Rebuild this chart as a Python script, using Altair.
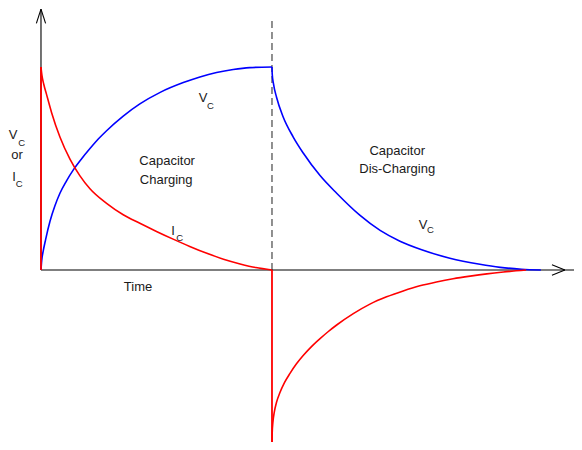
import altair as alt
import pandas as pd

# ---- data (time in tau-ish units, value in % of max) ----
vc_charge_t = [0, 0.015, 0.05, 0.1, 0.195, 0.3, 0.41, 0.55, 0.70, 0.88, 1.06, 1.24, 1.42, 1.78, 2.14, 2.58,
               3.08, 3.44, 3.80, 4.16, 4.52, 5.0]
vc_charge_v = [0, 4.5, 9.5, 15.0, 24.0, 31.5, 37.8, 43.8, 49.3, 54.8, 59.8, 64.5, 68.6, 75.8, 81.8, 87.5,
               92.3, 95.1, 97.3, 98.8, 99.7, 100]

ic_charge_t = [0, 0.02, 0.06, 0.12, 0.23, 0.41, 0.63, 0.84, 1.06, 1.42, 1.78, 2.14, 2.5, 2.86, 3.22, 3.59,
               3.95, 4.31, 4.65, 5.0]
ic_charge_v = [100, 96.0, 91.5, 86.5, 77.5, 65.5, 54.5, 46.5, 40.0, 32.8, 27.2, 23.0, 19.0, 15.2, 11.6, 8.2,
               5.3, 3.0, 1.2, 0]

vc_dis_t = [5.0, 5.005, 5.03, 5.10, 5.24, 5.46, 5.68, 6.04, 6.40, 6.90, 7.34, 7.77, 8.24, 8.85, 9.50, 9.94,
            10.40, 10.82]
vc_dis_v = [100, 96.5, 92.0, 85.0, 75.5, 65.5, 57.5, 46.5, 37.8, 27.0, 19.5, 14.2, 10.0, 5.8, 2.8, 1.3,
            0.4, 0]

ic_dis_t = [5.0, 5.005, 5.02, 5.05, 5.10, 5.17, 5.27, 5.39, 5.53, 5.68, 5.86, 6.04, 6.22, 6.40, 6.76, 7.12,
            7.48, 7.84, 8.20, 8.56, 8.92, 9.29, 9.65, 10.01, 10.50]
ic_dis_v = [-84.7, -80.0, -75.0, -70.0, -65.0, -60.5, -55.5, -50.9, -46.2, -42.0, -37.6, -33.8, -30.3, -27.1,
            -21.5, -16.8, -13.2, -10.3, -7.8, -5.9, -4.3, -3.0, -1.9, -1.0, 0]

series_names = ["Vc charge", "Ic charge", "Vc discharge", "Ic discharge"]
series_colors = ["#0000FF", "#FF0000", "#0000FF", "#FF0000"]

rows = []
for name, ts, vs in zip(series_names,
                        [vc_charge_t, ic_charge_t, vc_dis_t, ic_dis_t],
                        [vc_charge_v, ic_charge_v, vc_dis_v, ic_dis_v]):
    for t, v in zip(ts, vs):
        rows.append({"series": name, "t": t, "v": v})
curves = pd.DataFrame(rows)

# vertical current jumps
jumps = pd.DataFrame({"t": [0, 5.0], "v": [0, 0], "v2": [100, -84.7]})

X = alt.Scale(domain=[-0.714, 11.537], nice=False, zero=False)
Y = alt.Scale(domain=[-84.73, 129.06], nice=False, zero=False)

def xe(f="t"):
    return alt.X(f"{f}:Q", scale=X, axis=None)

def ye(f="v"):
    return alt.Y(f"{f}:Q", scale=Y, axis=None)

# axes (lines with arrows)
axes_df = pd.DataFrame({
    "t":  [0, 0, 0, 0, 11.34, 11.34],
    "v":  [0, 0, 128.5, 128.5, 0, 0],
    "t2": [0, 11.537, -0.10, 0.10, 11.06, 11.06],
    "v2": [128.5, 0, 121.5, 121.5, 2.6, -2.6],
})
axes_layer = alt.Chart(axes_df).mark_rule(color="black", strokeWidth=1.1).encode(
    x=xe(), y=ye(), x2="t2:Q", y2="v2:Q")

dash_df = pd.DataFrame({"t": [5.0], "v": [0], "v2": [124.1]})
dash_layer = alt.Chart(dash_df).mark_rule(color="#555555", strokeWidth=1.3, strokeDash=[7, 4]).encode(
    x=xe(), y=ye(), y2="v2:Q")

lines = alt.Chart(curves).mark_line(strokeWidth=1.6, interpolate="monotone").encode(
    x=xe(), y=ye(),
    color=alt.Color("series:N", scale=alt.Scale(domain=series_names, range=series_colors), legend=None),
    detail="series:N")

jump_layer = alt.Chart(jumps).mark_rule(color="#FF0000", strokeWidth=1.8).encode(
    x=xe(), y=ye(), y2="v2:Q")

# annotations
main_txt = pd.DataFrame({
    "t": [3.51, 2.73, 2.71, 2.86, 7.71, 7.71, 8.27, -0.606, -0.52, -0.584, 2.10],
    "v": [84.7, 53.7, 44.3, 19.2, 58.6, 49.8, 22.2, 66.5, 56.7, 45.8, -8.4],
    "label": ["V", "Capacitor", "Charging", "I", "Capacitor", "Dis-Charging", "V", "V", "or", "I", "Time"],
})
sub_txt = pd.DataFrame({
    "t": [3.67, 3.0, 8.43, -0.42, -0.47],
    "v": [81.0, 15.9, 19.5, 62.6, 42.6],
    "label": ["C", "C", "C", "C", "C"],
})
main_layer = alt.Chart(main_txt).mark_text(font="Liberation Sans", fontSize=13, color="#1a1a1a",
                                           align="center", baseline="middle").encode(
    x=xe(), y=ye(), text="label:N")
sub_layer = alt.Chart(sub_txt).mark_text(font="Liberation Sans", fontSize=9.5, color="#1a1a1a",
                                         align="center", baseline="middle").encode(
    x=xe(), y=ye(), text="label:N")

chart = alt.layer(dash_layer, axes_layer, lines, jump_layer, main_layer, sub_layer).properties(
    width=566, height=434, padding=0,
    autosize=alt.AutoSizeParams(type="none"),
).configure(background="white").configure_view(stroke=None, strokeWidth=0)

chart.save("out.html", embed_options={"renderer": "svg", "actions": False})
